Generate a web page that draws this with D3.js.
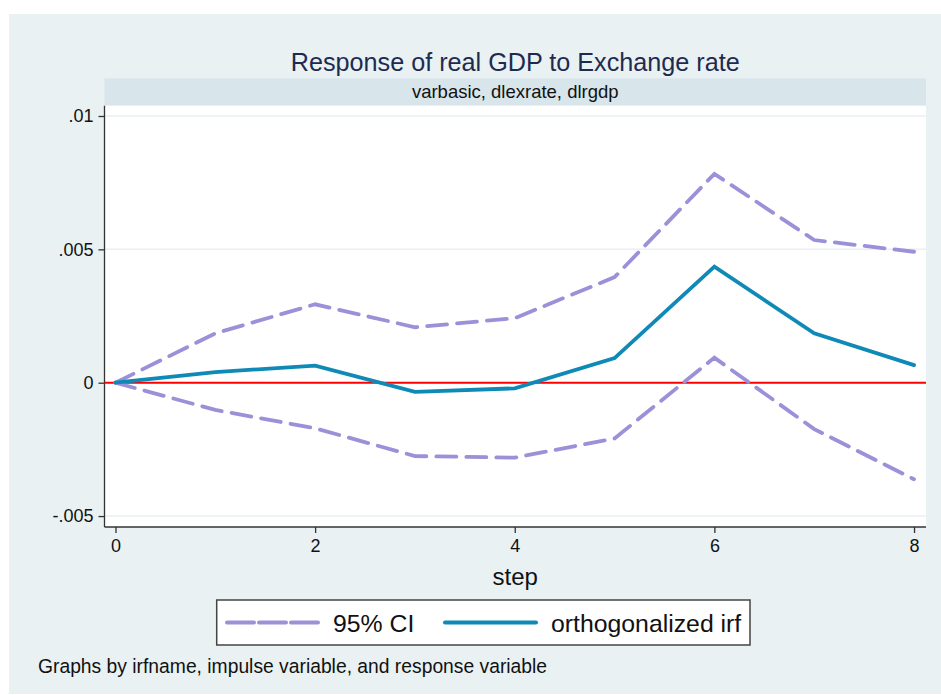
<!DOCTYPE html>
<html>
<head>
<meta charset="utf-8">
<script src="https://cdn.jsdelivr.net/npm/d3@7"></script>
<style>
  html, body { margin:0; padding:0; background:#fff; }
  svg { display:block; font-family:"Liberation Sans", Arial, sans-serif; }
</style>
</head>
<body>
<svg id="chart" width="941" height="695"></svg>
<script>
"use strict";

// values
const steps = [0, 1, 2, 3, 4, 5, 6, 7, 8];
const ciUpper = [0, 0.00185, 0.00294, 0.00208, 0.00242, 0.00396, 0.00783, 0.00535, 0.00491];
const ciLower = [0, -0.00102, -0.00171, -0.00275, -0.00281, -0.00209, 0.00094, -0.00174, -0.00362];
const oirf = [0, 0.0004, 0.00064, -0.00034, -0.00021, 0.00092, 0.00435, 0.00185, 0.00066];
const yTicks = [-0.005, 0, 0.005, 0.01];
const yTickLabels = ["-.005", "0", ".005", ".01"];
const xTicks = [0, 2, 4, 6, 8];
const legendLabels = ["95% CI", "orthogonalized irf"];

const titleText = "Response of real GDP to Exchange rate";
const bandText = "varbasic, dlexrate, dlrgdp";
const xTitle = "step";
const noteText = "Graphs by irfname, impulse variable, and response variable";

const ciColor = "#9a91d8", irfColor = "#0f89b6";

const svg = d3.select("#chart");
const plot = {l:104.5, r:926, t:105.7, b:527};

// outer graph region
svg.append("rect").attr("x", 9).attr("y", 14).attr("width", 932).attr("height", 680)
   .attr("fill", "#e9f1f3");

// title + by-band
svg.append("text").attr("x", (plot.l + plot.r) / 2).attr("y", 71)
   .attr("text-anchor", "middle").attr("font-size", 25.2).attr("fill", "#1e2b50")
   .text(titleText);
svg.append("rect").attr("x", plot.l).attr("y", 78.3).attr("width", plot.r - plot.l).attr("height", plot.t - 78.3)
   .attr("fill", "#d8e5eb");
svg.append("text").attr("x", (plot.l + plot.r) / 2).attr("y", 97.5)
   .attr("text-anchor", "middle").attr("font-size", 18.5).attr("fill", "#111")
   .text(bandText);

// plot region
svg.append("rect").attr("x", plot.l).attr("y", plot.t).attr("width", plot.r - plot.l).attr("height", plot.b - plot.t)
   .attr("fill", "#fff");

let x = d3.scaleLinear().domain([-0.11, 8.12]).range([plot.l, plot.r]);
let y = d3.scaleLinear().domain([-0.00541, 0.010386]).range([plot.b, plot.t]);

// gridlines
svg.append("g").selectAll("line").data(yTicks).join("line")
   .attr("x1", plot.l).attr("x2", plot.r)
   .attr("y1", d => y(d)).attr("y2", d => y(d))
   .attr("stroke", "#e9f0f3").attr("stroke-width", 1.5);

// axes
let yAxis = d3.axisLeft(y).tickValues(yTicks).tickSize(6).tickPadding(5)
              .tickFormat((d, i) => yTickLabels[i]);
let gy = svg.append("g").attr("transform", `translate(${plot.l},0)`).call(yAxis);
gy.select(".domain").attr("d", `M0,${plot.t}V${plot.b}`);

let xAxis = d3.axisBottom(x).tickValues(xTicks).tickSize(6).tickPadding(6).tickFormat(d3.format("d"));
let gx = svg.append("g").attr("transform", `translate(0,${plot.b})`).call(xAxis);
gx.select(".domain").attr("d", `M${plot.l},0H${plot.r}`);

[gx, gy].forEach(g => {
  g.selectAll(".domain, line").attr("stroke", "#333").attr("stroke-width", 1.3);
  g.selectAll("text").attr("font-size", 18).attr("fill", "#111")
   .attr("font-family", "'Liberation Sans', Arial, sans-serif");
});

svg.append("text").attr("x", (plot.l + plot.r) / 2).attr("y", 585)
   .attr("text-anchor", "middle").attr("font-size", 24).attr("fill", "#111")
   .text(xTitle);

// zero line first, then the series on top
svg.append("line").attr("x1", plot.l).attr("x2", plot.r).attr("y1", y(0)).attr("y2", y(0))
   .attr("stroke", "#ff0000").attr("stroke-width", 2);

let line = d3.line().x((d, i) => x(steps[i])).y(d => y(d));

const series = [
  {vals:ciUpper, color:ciColor, dash:"20,10"},
  {vals:ciLower, color:ciColor, dash:"20,10"},
  {vals:oirf, color:irfColor, dash:null}
];
series.forEach(s => {
  svg.append("path").attr("d", line(s.vals)).attr("fill", "none")
     .attr("stroke", s.color).attr("stroke-width", 3.8)
     .attr("stroke-linecap", "round").attr("stroke-linejoin", "miter")
     .attr("stroke-dasharray", s.dash);
});

// legend
let lg = svg.append("g");
lg.append("rect").attr("x", 216.7).attr("y", 600).attr("width", 533.3).attr("height", 45)
  .attr("fill", "#fff").attr("stroke", "#444").attr("stroke-width", 1.5);

const legendItems = [
  {label:legendLabels[0], color:ciColor, dash:"27,5", x0:227},
  {label:legendLabels[1], color:irfColor, dash:null, x0:445}
];
legendItems.forEach(it => {
  lg.append("line").attr("x1", it.x0).attr("x2", it.x0 + 91).attr("y1", 622.5).attr("y2", 622.5)
    .attr("stroke", it.color).attr("stroke-width", 4).attr("stroke-linecap", "round")
    .attr("stroke-dasharray", it.dash);
  lg.append("text").attr("x", it.x0 + 106).attr("y", 631.5)
    .attr("font-size", 24.8).attr("fill", "#111").text(it.label);
});

// note
svg.append("text").attr("x", 38).attr("y", 673).attr("font-size", 19.3).attr("fill", "#111")
   .text(noteText);
</script>
</body>
</html>
